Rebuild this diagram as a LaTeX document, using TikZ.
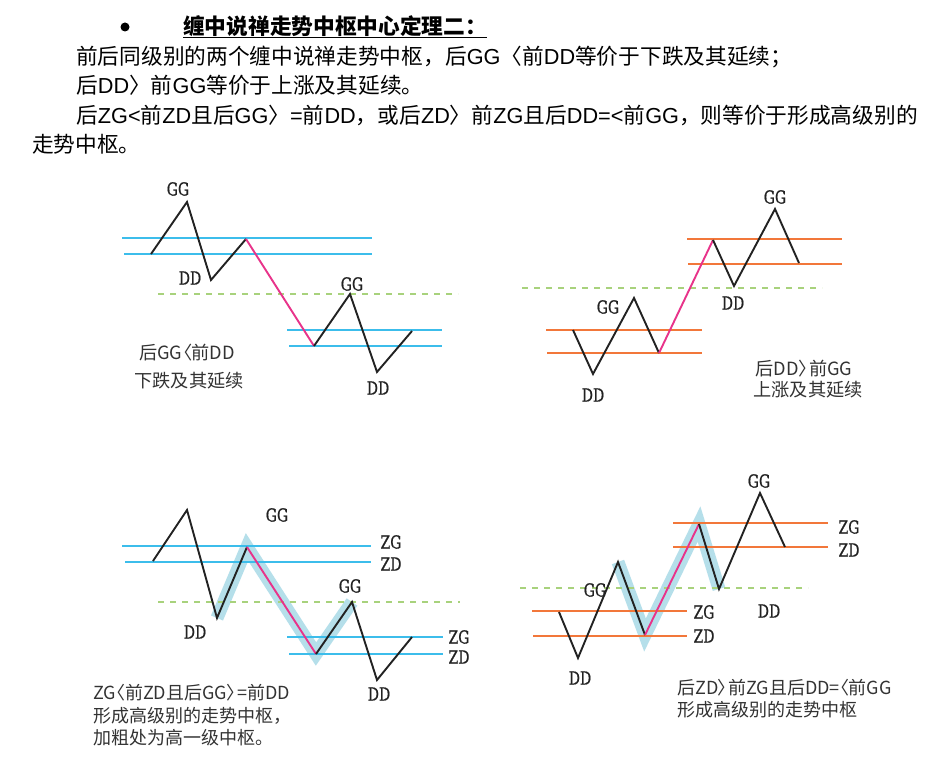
\documentclass[tikz,border=0pt]{standalone}
\usepackage{fontspec}
\setmainfont{Noto Sans CJK SC}
\newfontfamily\cjk{Noto Sans CJK SC}
\newfontfamily\lat{Liberation Sans}
\newfontfamily\lblfont[FakeStretch=0.78,FakeBold=0.8]{DejaVu Serif}
\newcommand\lt[1]{{\lat #1}}
\newcommand\lbk{\kern-0.45em〈\kern-0.05em}
\newcommand\rbk{\kern-0.05em〉\kern-0.45em}
\definecolor{zsblue}{HTML}{3CBDEB}
\definecolor{zsorange}{HTML}{F2773A}
\definecolor{zspink}{HTML}{E8338A}
\definecolor{zsgreen}{HTML}{A8D27C}
\definecolor{zsband}{HTML}{B5DFEA}
\definecolor{ink}{HTML}{222222}
\definecolor{note}{HTML}{333333}
\begin{document}
\begin{tikzpicture}[x=1pt,y=-1pt,
  head/.style={anchor=base west,inner sep=0,font=\cjk\fontsize{21.7}{26}\selectfont,text=black},
  lbl/.style={inner sep=0,font=\lblfont\fontsize{18}{20}\selectfont,text=ink},
  notec/.style={inner sep=0,font=\cjk\fontsize{18.2}{20}\selectfont,text=note},
  notel/.style={anchor=west,inner sep=0,font=\cjk\fontsize{18}{20}\selectfont,text=note},
  zline/.style={line width=2pt,zsblue},
  oline/.style={line width=2pt,zsorange},
  zig/.style={line width=1.9pt,ink,line join=miter},
  up/.style={line width=1.9pt,zspink},
  mid/.style={line width=1.5pt,zsgreen,dash pattern=on 6pt off 6pt},
  band/.style={line width=13pt,zsband,line join=miter,miter limit=10,line cap=butt}]
\useasboundingbox (0,0) rectangle (948,760);
\fill[white] (0,0) rectangle (948,760);

% ---------- header ----------
\node[circle,fill=black,minimum size=9pt,inner sep=0] (bul) at (125,27) {};
\node[head,font=\cjk\bfseries\fontsize{21.7}{26}\selectfont] (title) at (183,35) {缠中说禅走势中枢中心定理二：};
\draw[line width=1.2pt] ([yshift=-2.5pt]title.base west) -- ([yshift=-2.5pt]title.base east);
\node[head] (t1) at (76,65) {前后同级别的两个缠中说禅走势中枢，后\lt{GG}〈前\lt{DD}等价于下跌及其延续；};
\node[head] (t2) at (76,93) {后\lt{DD}〉前\lt{GG}等价于上涨及其延续。};
\node[head] (t3) at (76,123) {后\lt{ZG<}前\lt{ZD}且后\lt{GG}〉\lt{=}前\lt{DD}，或后\lt{ZD}〉前\lt{ZG}且后\lt{DD=<}前\lt{GG}，则等价于形成高级别的};
\node[head] (t4) at (32,152) {走势中枢。};

% ---------- panel 1 ----------
\coordinate (a1) at (151,254); \coordinate (a2) at (187,202);
\coordinate (a3) at (211,280); \coordinate (a4) at (246,239);
\coordinate (a5) at (314,346); \coordinate (a6) at (350,294);
\coordinate (a7) at (377,372); \coordinate (a8) at (412,331);
\coordinate (p1l1) at (122,238); \coordinate (p1r1) at (372,238);
\coordinate (p1l2) at (124,254); \coordinate (p1r2) at (372,254);
\coordinate (p1l3) at (287,330); \coordinate (p1r3) at (442,330);
\coordinate (p1l4) at (289,346); \coordinate (p1r4) at (442,346);
\coordinate (p1g1) at (158,294); \coordinate (p1g2) at (458,294);
\draw[mid] (p1g1) -- (p1g2);
\draw[zline] (p1l1) -- (p1r1);
\draw[zline] (p1l2) -- (p1r2);
\draw[zline] (p1l3) -- (p1r3);
\draw[zline] (p1l4) -- (p1r4);
\draw[zig] (a1) -- (a2) -- (a3) -- (a4);
\draw[up] (a4) -- (a5);
\draw[zig] (a5) -- (a6) -- (a7) -- (a8);
\node[lbl] (a2l) at (178,189) {GG};
\node[lbl] (a3l) at (190,278) {DD};
\node[lbl] (a6l) at (352,284) {GG};
\node[lbl] (a7l) at (378,388) {DD};
\node[notec] (n1a) at (187,353) {后GG\lbk 前DD};
\node[notec] (n1b) at (189,381) {下跌及其延续};

% ---------- panel 2 ----------
\coordinate (b1) at (573,330); \coordinate (b2) at (593,374);
\coordinate (b3) at (634,298); \coordinate (b4) at (659,353);
\coordinate (b5) at (713,240); \coordinate (b6) at (734,286);
\coordinate (b7) at (775,209); \coordinate (b8) at (799,263);
\coordinate (p2l1) at (546,330); \coordinate (p2r1) at (702,330);
\coordinate (p2l2) at (547,353); \coordinate (p2r2) at (702,353);
\coordinate (p2l3) at (687,239); \coordinate (p2r3) at (842,239);
\coordinate (p2l4) at (688,264); \coordinate (p2r4) at (842,264);
\coordinate (p2g1) at (522,288); \coordinate (p2g2) at (822,288);
\draw[mid] (p2g1) -- (p2g2);
\draw[oline] (p2l1) -- (p2r1);
\draw[oline] (p2l2) -- (p2r2);
\draw[oline] (p2l3) -- (p2r3);
\draw[oline] (p2l4) -- (p2r4);
\draw[zig] (b1) -- (b2) -- (b3) -- (b4);
\draw[up] (b4) -- (b5);
\draw[zig] (b5) -- (b6) -- (b7) -- (b8);
\node[lbl] (b7l) at (775,197) {GG};
\node[lbl] (b3l) at (608,307) {GG};
\node[lbl] (b6l) at (733,303) {DD};
\node[lbl] (b2l) at (593,395) {DD};
\node[notec] (n2a) at (804,369) {后DD\rbk\kern0.05em 前GG};
\node[notec] (n2b) at (808,390) {上涨及其延续};

% ---------- panel 3 ----------
\coordinate (c1) at (153,561); \coordinate (c2) at (187,510);
\coordinate (c3) at (217,618); \coordinate (c4) at (247,547);
\coordinate (c5) at (316,654); \coordinate (c6) at (352,602);
\coordinate (c7) at (377,680); \coordinate (c8) at (412,637);
\coordinate (p3l1) at (122,546); \coordinate (p3r1) at (371,546);
\coordinate (p3l2) at (125,562); \coordinate (p3r2) at (371,562);
\coordinate (p3l3) at (287,637); \coordinate (p3r3) at (443,637);
\coordinate (p3l4) at (289,654); \coordinate (p3r4) at (443,654);
\coordinate (p3g1) at (158,602); \coordinate (p3g2) at (460,602);
\draw[band] (c3) -- (c4) -- (c5) -- (c6);
\draw[mid] (p3g1) -- (p3g2);
\draw[zline] (p3l1) -- (p3r1);
\draw[zline] (p3l2) -- (p3r2);
\draw[zline] (p3l3) -- (p3r3);
\draw[zline] (p3l4) -- (p3r4);
\draw[zig] (c1) -- (c2) -- (c3) -- (c4);
\draw[up] (c4) -- (c5);
\draw[zig] (c5) -- (c6) -- (c7) -- (c8);
\node[lbl] (zg3a) at (391,542) {ZG};
\node[lbl] (zd3a) at (391,564) {ZD};
\node[lbl] (zg3b) at (459,637) {ZG};
\node[lbl] (zd3b) at (459,657) {ZD};
\node[lbl] (c4l) at (277,515) {GG};
\node[lbl] (c6l) at (350,586) {GG};
\node[lbl] (c3l) at (195,632) {DD};
\node[lbl] (c7l) at (379,694) {DD};
\node[notel] (n3a) at (93,693) {ZG\lbk 前ZD且后GG\rbk\kern0.05em=前DD};
\node[notel] (n3b) at (93,716) {形成高级别的走势中枢，};
\node[notel] (n3c) at (93,738) {加粗处为高一级中枢。};

% ---------- panel 4 ----------
\coordinate (d1) at (559,612); \coordinate (d2) at (578,658);
\coordinate (d3) at (618,562); \coordinate (d4) at (645,635);
\coordinate (d5) at (699,524); \coordinate (d6) at (719,589);
\coordinate (d7) at (760,493); \coordinate (d8) at (785,547);
\coordinate (p4l1) at (532,611); \coordinate (p4r1) at (687,611);
\coordinate (p4l2) at (533,636); \coordinate (p4r2) at (687,636);
\coordinate (p4l3) at (673,523); \coordinate (p4r3) at (828,523);
\coordinate (p4l4) at (673,547); \coordinate (p4r4) at (828,547);
\coordinate (p4g1) at (520,588); \coordinate (p4g2) at (808,588);
\draw[band] (d3) -- (d4) -- (d5) -- (d6);
\draw[mid] (p4g1) -- (p4g2);
\draw[oline] (p4l1) -- (p4r1);
\draw[oline] (p4l2) -- (p4r2);
\draw[oline] (p4l3) -- (p4r3);
\draw[oline] (p4l4) -- (p4r4);
\draw[zig] (d1) -- (d2) -- (d3) -- (d4);
\draw[up] (d4) -- (d5);
\draw[zig] (d5) -- (d6) -- (d7) -- (d8);
\node[lbl] (zg4a) at (704,612) {ZG};
\node[lbl] (zd4a) at (704,636) {ZD};
\node[lbl] (zg4b) at (849,527) {ZG};
\node[lbl] (zd4b) at (849,550) {ZD};
\node[lbl] (d3l) at (595,590) {GG};
\node[lbl] (d2l) at (580,678) {DD};
\node[lbl] (d7l) at (759,481) {GG};
\node[lbl] (d6l) at (769,611) {DD};
\node[notel] (n4a) at (677,688) {后ZD\rbk\kern0.05em 前ZG且后DD=\lbk 前GG};
\node[notel] (n4b) at (677,710) {形成高级别的走势中枢};
\end{tikzpicture}
\end{document}
